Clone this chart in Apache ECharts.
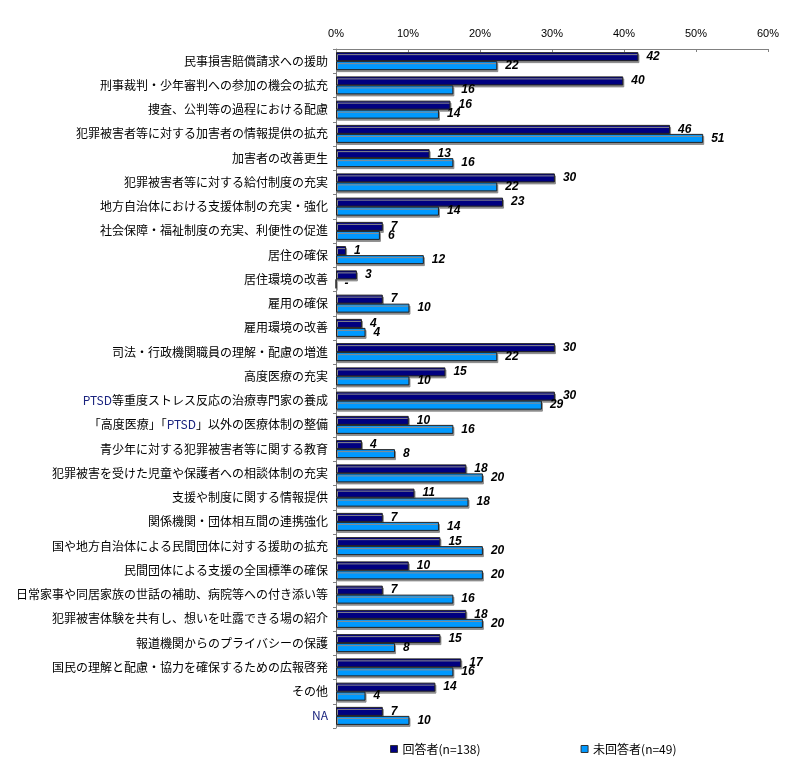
<!DOCTYPE html>
<html><head><meta charset="utf-8">
<script src="https://cdn.jsdelivr.net/npm/echarts@6/dist/echarts.min.js"></script>
<style>html,body{margin:0;padding:0;background:#fff}#c{width:801px;height:776px}</style>
</head><body><div id="c"></div>
<script>
const categories = [
 "民事損害賠償請求への援助",
 "刑事裁判・少年審判への参加の機会の拡充",
 "捜査、公判等の過程における配慮",
 "犯罪被害者等に対する加害者の情報提供の拡充",
 "加害者の改善更生",
 "犯罪被害者等に対する給付制度の充実",
 "地方自治体における支援体制の充実・強化",
 "社会保障・福祉制度の充実、利便性の促進",
 "居住の確保",
 "居住環境の改善",
 "雇用の確保",
 "雇用環境の改善",
 "司法・行政機関職員の理解・配慮の増進",
 "高度医療の充実",
 "PTSD等重度ストレス反応の治療専門家の養成",
 "「高度医療」「PTSD」以外の医療体制の整備",
 "青少年に対する犯罪被害者等に関する教育",
 "犯罪被害を受けた児童や保護者への相談体制の充実",
 "支援や制度に関する情報提供",
 "関係機関・団体相互間の連携強化",
 "国や地方自治体による民間団体に対する援助の拡充",
 "民間団体による支援の全国標準の確保",
 "日常家事や同居家族の世話の補助、病院等への付き添い等",
 "犯罪被害体験を共有し、想いを吐露できる場の紹介",
 "報道機関からのプライバシーの保護",
 "国民の理解と配慮・協力を確保するための広報啓発",
 "その他",
 "NA"
];
const respondents = [42.0,39.9,15.9,46.4,13.0,30.4,23.2,6.5,1.4,2.9,6.5,3.6,30.4,15.2,30.4,10.1,3.6,18.1,10.9,6.5,14.5,10.1,6.5,18.1,14.5,17.4,13.8,6.5];
const nonRespondents = [22.4,16.3,14.3,51.0,16.3,22.4,14.3,6.1,12.2,0,10.2,4.1,22.4,10.2,28.6,16.3,8.2,20.4,18.4,14.3,20.4,20.4,16.3,20.4,8.2,16.3,4.1,10.2];
const seriesNames = ["回答者(n=138)","未回答者(n=49)"];
const xTicks = [0,10,20,30,40,50,60];

const chart = echarts.init(document.getElementById('c'));
const lbl = (off) => ({
  show:true, position:'right', distance:8, color:'#000',
  fontStyle:'italic', fontWeight:'bold', fontSize:12, fontFamily:'Liberation Sans, Arial',
  formatter: p => p.value === 0 ? '-' : String(Math.round(p.value))
});
chart.setOption({
  animation:false,
  grid:{left:336, right:33, top:49, bottom:48},
  legend:{
    bottom:16, left:385, itemGap:100, itemWidth:7, itemHeight:7, icon:'rect',
    textStyle:{fontSize:12, color:'#000', fontFamily:'Noto Sans CJK JP'},
    itemStyle:{borderColor:'#333', borderWidth:1},
    data:seriesNames
  },
  xAxis:{
    type:'value', position:'top', min:0, max:60, interval:10,
    axisLine:{show:true, lineStyle:{color:'#808080'}},
    axisTick:{show:true, inside:true, length:3, lineStyle:{color:'#808080'}},
    splitLine:{show:false},
    axisLabel:{formatter:v=>v+'%', fontSize:11, color:'#000', fontFamily:'Liberation Sans, Arial', margin:10}
  },
  yAxis:{
    type:'category', inverse:true, data:categories,
    axisLine:{show:true, lineStyle:{color:'#808080'}},
    axisTick:{show:true, length:3, lineStyle:{color:'#808080'}},
    axisLabel:{
      fontSize:12, color:'#000', fontFamily:'Noto Sans CJK JP', margin:8,
      formatter: v => {
        if (v === 'NA') return '{b|NA}';
        return v.replace(/PTSD/g, '{b|PTSD}');
      },
      rich:{b:{color:'#1a237e', fontSize:12, fontFamily:'Noto Sans CJK JP'}}
    }
  },
  series:[
    {name:seriesNames[0], type:'bar', data:respondents, barWidth:9, barGap:'0%',
     itemStyle:{color:'#000080', borderColor:'#222', borderWidth:1, shadowColor:'#8c8c8c', shadowOffsetX:1, shadowOffsetY:2},
     label:lbl()},
    {name:seriesNames[1], type:'bar', data:nonRespondents, barWidth:9, barGap:'0%',
     itemStyle:{color:'#0099FF', borderColor:'#222', borderWidth:1, shadowColor:'#8c8c8c', shadowOffsetX:1, shadowOffsetY:2},
     label:lbl()}
  ]
});
</script></body></html>
